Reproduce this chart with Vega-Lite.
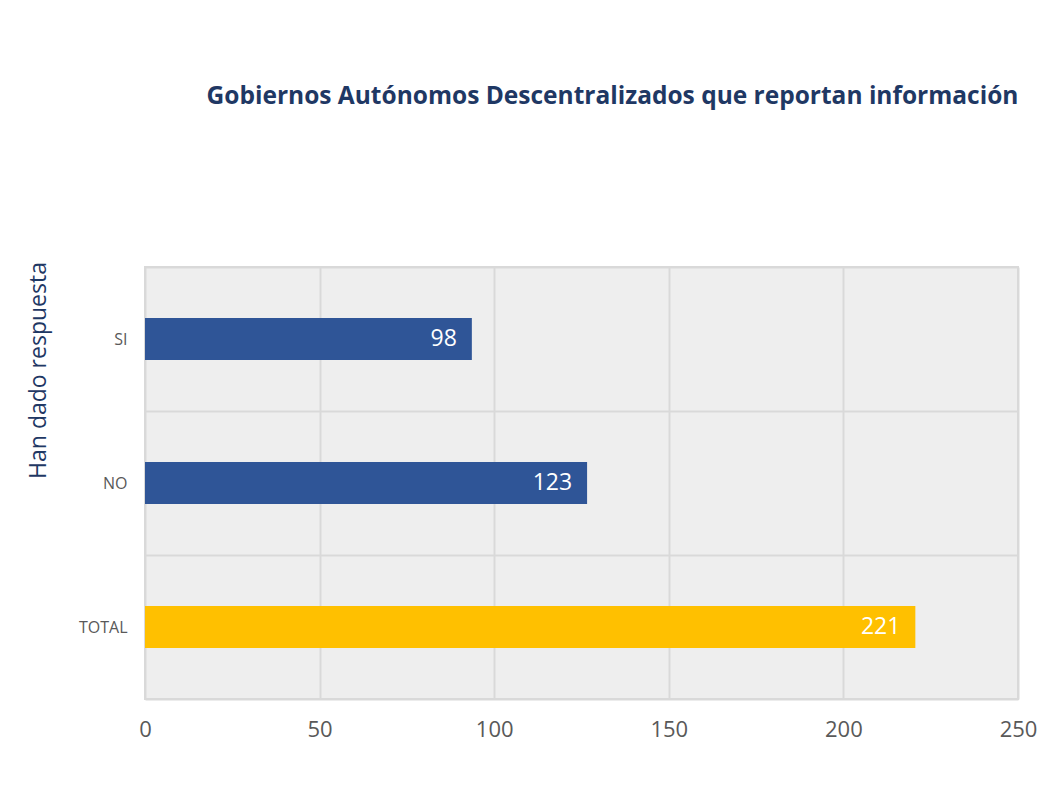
{
  "$schema": "https://vega.github.io/schema/vega-lite/v6.json",
  "width": 873,
  "height": 432,
  "autosize": {"type": "none"},
  "padding": {"left": 145, "top": 267, "right": 33, "bottom": 94},
  "background": "white",
  "title": {
    "text": "Gobiernos Autónomos Descentralizados que reportan información",
    "font": "Open Sans",
    "fontSize": 24.5,
    "fontWeight": "bold",
    "color": "#1F3864",
    "anchor": "middle",
    "frame": "group",
    "offset": 150,
    "dx": 31
  },
  "config": {
    "view": {"fill": "#eeeeee", "stroke": "#d9d9d9", "strokeWidth": 2},
    "font": "Open Sans"
  },
  "data": {
    "values": [
      {"categoria": "SI", "valor": 93.6, "etiqueta": "98", "grupo": "respuesta"},
      {"categoria": "NO", "valor": 126.6, "etiqueta": "123", "grupo": "respuesta"},
      {"categoria": "TOTAL", "valor": 220.6, "etiqueta": "221", "grupo": "total"}
    ]
  },
  "encoding": {
    "y": {
      "field": "categoria",
      "type": "nominal",
      "sort": ["SI", "NO", "TOTAL"],
      "scale": {"paddingInner": 0, "paddingOuter": 0},
      "axis": {
        "title": "Han dado respuesta",
        "titleFont": "Open Sans",
        "titleFontSize": 23,
        "titleFontWeight": "normal",
        "titleColor": "#1F3864",
        "titleAngle": -90,
        "titleX": -107,
        "titleY": 103,
        "titleAlign": "center",
        "titleBaseline": "middle",
        "labelFontSize": 16,
        "labelColor": "#595959",
        "labelPadding": 18,
        "ticks": false,
        "domain": false,
        "grid": true,
        "gridColor": "#d9d9d9",
        "gridWidth": 2,
        "tickBand": "extent"
      }
    },
    "x": {
      "field": "valor",
      "type": "quantitative",
      "scale": {"domain": [0, 250], "nice": false},
      "axis": {
        "title": null,
        "values": [0, 50, 100, 150, 200, 250],
        "labelFontSize": 22,
        "labelColor": "#595959",
        "labelPadding": 20,
        "labelFlush": false,
        "ticks": false,
        "domain": false,
        "grid": true,
        "gridColor": "#d9d9d9",
        "gridWidth": 2
      }
    }
  },
  "layer": [
    {
      "mark": {"type": "bar", "height": {"band": 0.29}},
      "encoding": {
        "color": {
          "field": "grupo",
          "type": "nominal",
          "scale": {"domain": ["respuesta", "total"], "range": ["#2F5597", "#FFC000"]},
          "legend": null
        }
      }
    },
    {
      "mark": {"type": "text", "align": "right", "baseline": "middle", "dx": -15, "fontSize": 23, "color": "white"},
      "encoding": {"text": {"field": "etiqueta"}}
    }
  ]
}
